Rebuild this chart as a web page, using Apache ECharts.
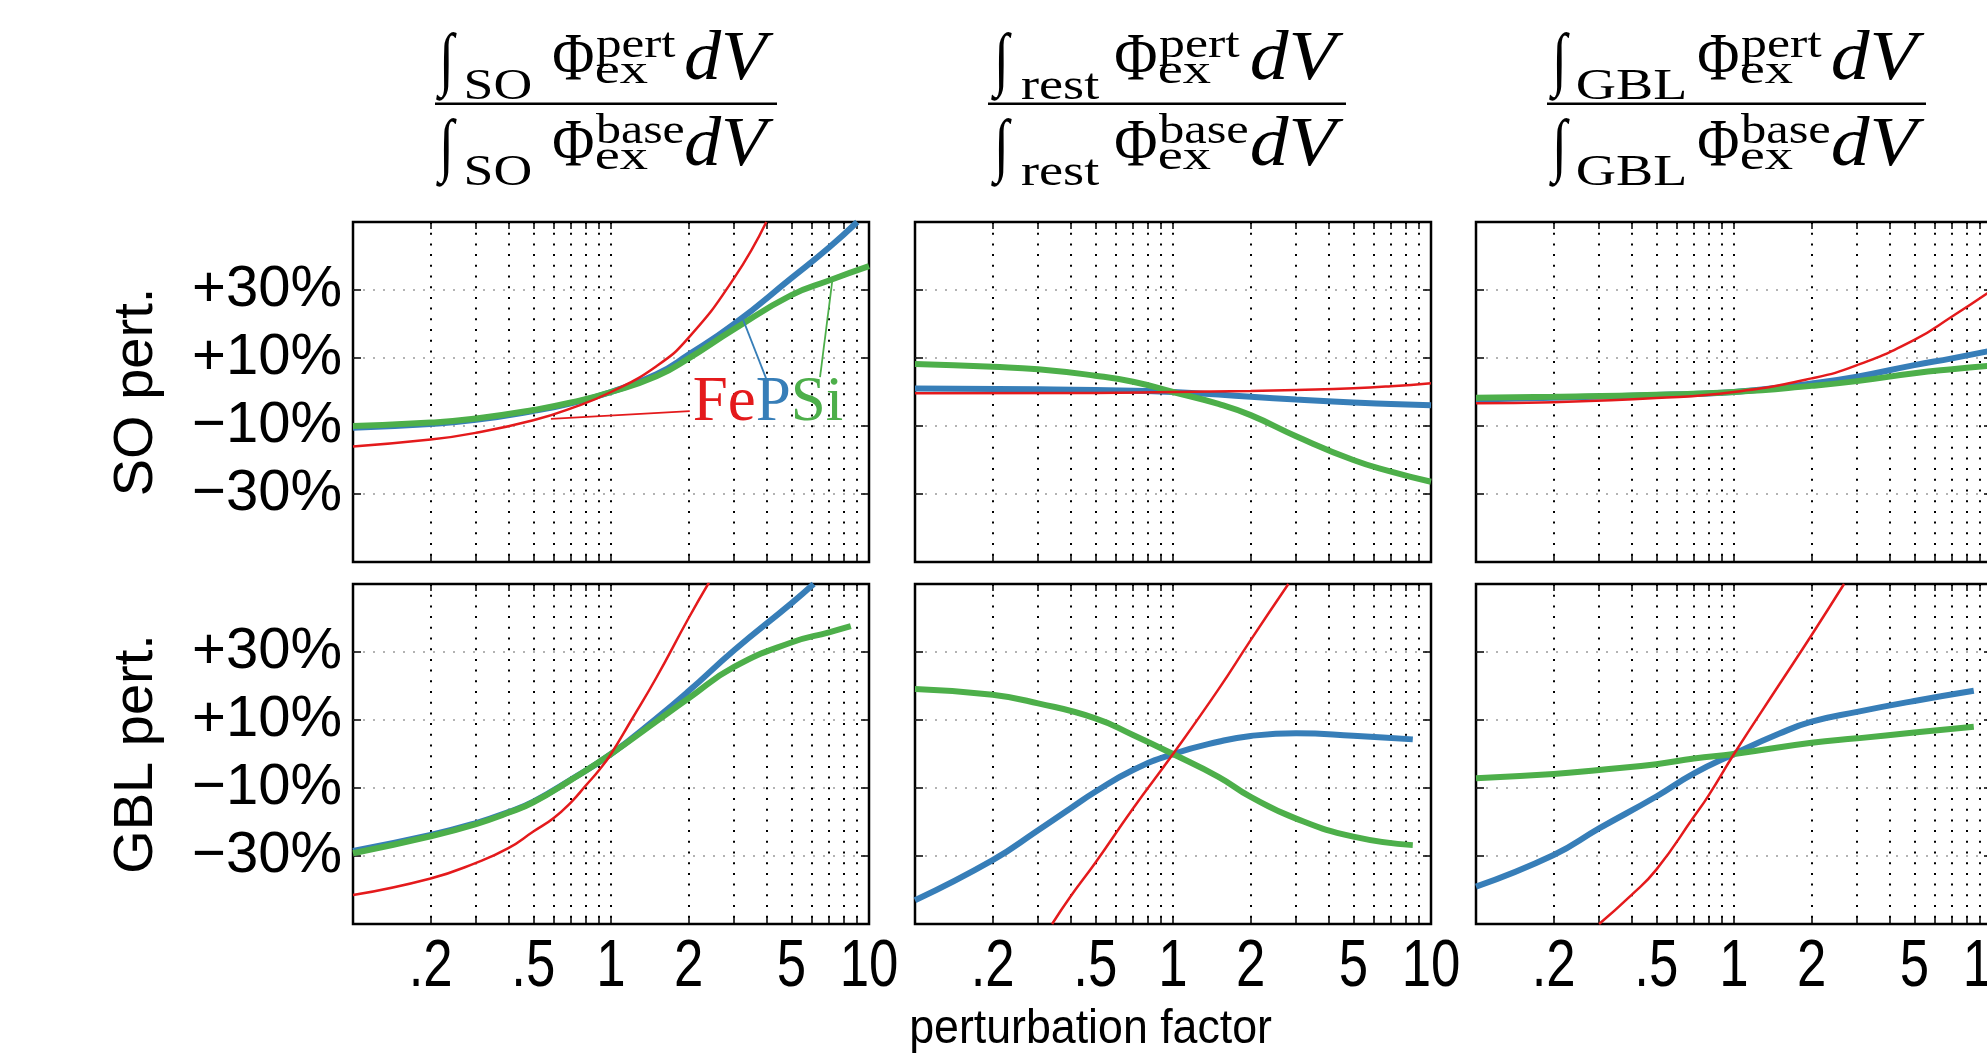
<!DOCTYPE html>
<html>
<head>
<meta charset="utf-8">
<script src="https://cdn.jsdelivr.net/npm/echarts@6/dist/echarts.min.js"></script>
<style>
  html, body { margin: 0; padding: 0; background: #fff; }
  #chart { width: 1987px; height: 1053px; }
</style>
</head>
<body>
<div id="chart"></div>
<script>
// axis ticks
const labelTicks = [0.2, 0.5, 1, 2, 5, 10];
const gridTicks = [0.2, 0.3, 0.4, 0.5, 0.6, 0.7, 0.8, 0.9, 1, 2, 3, 4, 5, 6, 7, 8, 9];
const yTicks = [-30, -10, 10, 30];
const rowNames = ['SO pert.', 'GBL pert.'];
const colSubs = ['SO', 'rest', 'GBL'];

// row 1: SO perturbation  [factor, % change]
const so_so_fe = [[0.1,-16],[0.2,-14],[0.3,-12],[0.5,-8.3],[0.7,-4.8],[1,0],[1.5,7.6],[2,16],[3,33.5],[4,50]];
const so_so_p  = [[0.1,-10.5],[0.2,-9.4],[0.3,-8.2],[0.5,-5.6],[0.7,-3.3],[1,0],[1.5,5.2],[2,11],[3,20],[5,33.5],[7,42.5],[9,50]];
const so_so_si = [[0.1,-10],[0.2,-9],[0.3,-7.8],[0.5,-5.3],[0.7,-3.1],[1,0],[1.5,4.6],[2,9.9],[3,18.5],[5,28.5],[7,32.8],[10,37]];

const so_rest_fe = [[0.1,-0.4],[0.5,-0.3],[1,0],[2,0.3],[3,0.6],[5,1.1],[7,1.7],[10,2.6]];
const so_rest_p  = [[0.1,1.0],[0.3,0.8],[0.5,0.6],[1,0],[2,-1.4],[3,-2.2],[5,-3.1],[7,-3.5],[10,-3.9]];
const so_rest_si = [[0.1,8.2],[0.2,7.4],[0.3,6.7],[0.5,4.8],[0.7,3.0],[1,0],[1.5,-3.5],[2,-6.8],[3,-13],[5,-20],[7,-23.4],[10,-26.4]];

const so_gbl_fe = [[0.1,-3.3],[0.2,-3.0],[0.5,-1.8],[1,0],[2,4.0],[3,7.9],[5,15.3],[7,22.2],[10,30]];
const so_gbl_p  = [[0.1,-2.2],[0.2,-1.7],[0.5,-0.9],[1,0],[2,2.5],[3,4.5],[5,7.9],[7,9.9],[10,12.2]];
const so_gbl_si = [[0.1,-1.7],[0.2,-1.4],[0.5,-0.8],[1,0],[2,1.8],[3,3.2],[5,5.5],[7,6.7],[10,7.8]];

// row 2: GBL perturbation
const gbl_so_fe = [[0.1,-41.5],[0.2,-36.6],[0.3,-32],[0.4,-27.7],[0.5,-22.8],[0.6,-18.8],[0.7,-14.2],[0.8,-9.2],[0.9,-4.7],[1,0],[1.2,10],[1.5,22.5],[2,40],[2.4,50.5]];
const gbl_so_p  = [[0.1,-28.5],[0.2,-23.8],[0.3,-20.3],[0.4,-17.1],[0.5,-14],[0.7,-7.5],[1,0],[1.5,10.5],[2,18.5],[3,30.5],[5,44.3],[6.1,50]];
const gbl_so_si = [[0.1,-29.2],[0.2,-24.2],[0.3,-20.6],[0.4,-17.3],[0.5,-14.2],[0.7,-7.6],[1,0],[1.5,9.6],[2,16.4],[3,25.6],[5,32.8],[7,35.8],[8.5,37.6]];

const gbl_rest_fe = [[0.34,-50],[0.4,-42],[0.5,-32],[0.7,-16],[1,0],[1.5,19],[2,33.5],[2.8,50]];
const gbl_rest_p  = [[0.1,-43],[0.2,-31.2],[0.3,-22.4],[0.4,-16],[0.5,-11.1],[0.7,-4.7],[1,0],[1.5,3.6],[2,5.3],[3,6.1],[5,5.4],[8.5,4.3]];
const gbl_rest_si = [[0.1,19.1],[0.2,17.4],[0.3,14.9],[0.5,10.5],[0.7,5.6],[1,0],[1.5,-6.7],[2,-12.6],[3,-19],[5,-24.3],[8.5,-26.8]];

const gbl_gbl_fe = [[0.3,-50],[0.4,-41.5],[0.5,-34],[0.7,-18.4],[0.8,-12],[1,0],[1.5,20.5],[2,35],[2.67,50]];
const gbl_gbl_p  = [[0.1,-39],[0.2,-29.7],[0.3,-21.9],[0.5,-12.5],[0.7,-5.7],[1,0],[1.5,6],[2,9.5],[3,12.4],[5,15.6],[8.5,18.6]];
const gbl_gbl_si = [[0.1,-7.1],[0.2,-5.9],[0.3,-4.7],[0.5,-3.0],[0.7,-1.3],[1,0],[2,3.3],[3,4.6],[5,6.3],[8.5,8.0]];

const panels = [
  [so_so_p, so_so_si, so_so_fe], [so_rest_p, so_rest_si, so_rest_fe], [so_gbl_p, so_gbl_si, so_gbl_fe],
  [gbl_so_p, gbl_so_si, gbl_so_fe], [gbl_rest_p, gbl_rest_si, gbl_rest_fe], [gbl_gbl_p, gbl_gbl_si, gbl_gbl_fe]
];

// leader lines of the FePSi annotation (top-left panel)
const leaderFe = [[0.585, -7.9], [2.02, -5.6]];
const leaderP = [[3.25, 21.3], [4.03, 3.2]];
const leaderSi = [[7.2, 32.5], [6.46, 4.4]];
const labelAt = [4.06, -3.5];

const RED = '#e41a1c', BLUE = '#377eb8', GREEN = '#4daf4a';
const SANS = "'Liberation Sans', Arial, sans-serif";
const SERIF = "'Liberation Serif', 'Times New Roman', serif";

const lefts = [353, 915, 1476];
const tops = [222, 584];
const W = 516, H = 340;

const chart = echarts.init(document.getElementById('chart'));

const fmtX = v => v < 1 ? String(+v.toFixed(2)).replace(/^0/, '') : String(Math.round(v));

let grid = [], xAxis = [], yAxis = [], series = [];
for (let r = 0; r < 2; r++) {
  for (let c = 0; c < 3; c++) {
    const g = r * 3 + c;
    grid.push({left: lefts[c], top: tops[r], width: W, height: H, show: true,
      borderColor: '#000', borderWidth: 2.5, backgroundColor: 'transparent', outerBoundsMode: 'none'});
    const xBase = {gridIndex: g, type: 'log', logBase: 10, min: 0.1, max: 10,
      axisLine: {show: false, onZero: false},
      axisTick: {show: true, inside: true, length: 7, customValues: gridTicks, lineStyle: {color: '#000', width: 1.5}},
      axisLabel: {show: false},
      minorTick: {show: false}};
    xAxis.push(Object.assign({}, xBase, {position: 'bottom',
      splitLine: {show: true, lineStyle: {color: '#000', width: 2, type: [2, 8.7]}}}));
    xAxis.push(Object.assign({}, xBase, {position: 'top', splitLine: {show: false}}));
    const yBase = {gridIndex: g, type: 'value', min: -50, max: 50,
      axisLine: {show: false, onZero: false},
      axisTick: {show: true, inside: true, length: 8, customValues: yTicks, lineStyle: {color: '#000', width: 1.5}}};
    yAxis.push(Object.assign({}, yBase, {position: 'left',
      name: c === 0 ? rowNames[r] : '', nameLocation: 'middle', nameRotate: 90, nameGap: 188, nameMoveOverlap: false,
      nameTextStyle: {fontSize: 56, fontFamily: SANS, color: '#000'},
      axisLabel: {show: c === 0, customValues: yTicks, fontSize: 58, fontFamily: SANS, color: '#000', margin: 11,
        formatter: v => (v > 0 ? '+' : '\u2212') + Math.abs(v) + '%'},
      splitLine: {show: true, lineStyle: {color: '#9a9a9a', width: 1.5, type: [2, 8]}}}));
    yAxis.push(Object.assign({}, yBase, {position: 'right', axisLabel: {show: false}, splitLine: {show: false}}));

    const [p, si, fe] = panels[g];
    const common = {type: 'line', xAxisIndex: g * 2, yAxisIndex: g * 2, showSymbol: false, symbol: 'none',
      smooth: 0.5, clip: true, silent: true};
    const sp = Object.assign({}, common, {name: 'P', data: p, lineStyle: {color: BLUE, width: 6}, itemStyle: {color: BLUE}});
    const ss = Object.assign({}, common, {name: 'Si', data: si, lineStyle: {color: GREEN, width: 6}, itemStyle: {color: GREEN}});
    const sf = Object.assign({}, common, {name: 'Fe', data: fe, lineStyle: {color: RED, width: 2.5}, itemStyle: {color: RED}});
    if (g === 0) {
      const ml = (pts, color) => ({silent: true, symbol: 'none', label: {show: false},
        lineStyle: {color: color, width: 1.8, type: 'solid'},
        data: [[{coord: pts[0]}, {coord: pts[1]}]]});
      sp.markLine = ml(leaderP, BLUE);
      ss.markLine = ml(leaderSi, GREEN);
      sf.markLine = ml(leaderFe, RED);
      sf.markPoint = {silent: true, symbol: 'rect', symbolSize: 1, itemStyle: {color: 'rgba(0,0,0,0)'},
        data: [{coord: labelAt, label: {show: true, position: 'inside', formatter: '{a|Fe}{b|P}{c|Si}',
          rich: {a: {color: RED, fontSize: 63, fontFamily: SERIF},
                 b: {color: BLUE, fontSize: 63, fontFamily: SERIF},
                 c: {color: GREEN, fontSize: 63, fontFamily: SERIF}}}}]};
    }
    series.push(sp, ss, sf);
  }
}

chart.setOption({
  animation: false,
  backgroundColor: '#fff',
  grid: grid,
  xAxis: xAxis,
  yAxis: yAxis,
  series: series
});

// text measuring helpers for scaled (condensed / widened) text
const meas = document.createElement('canvas').getContext('2d');
meas.textBaseline = 'middle';
function fitX(str, font, x0, x1, base) {
  meas.font = font;
  const m = meas.measureText(str);
  const sx = (x1 - x0) / (m.actualBoundingBoxLeft + m.actualBoundingBoxRight);
  const hb = meas.measureText('H').actualBoundingBoxDescent;
  return {type: 'text', x: x0 + sx * m.actualBoundingBoxLeft, y: base - hb, scaleX: sx, silent: true,
    style: {text: str, font: font, fill: '#000', align: 'left', verticalAlign: 'middle'}};
}
function fitBox(str, font, x0, x1, y0, y1) {
  meas.font = font;
  const m = meas.measureText(str);
  const sx = (x1 - x0) / (m.actualBoundingBoxLeft + m.actualBoundingBoxRight);
  const sy = (y1 - y0) / (m.actualBoundingBoxAscent + m.actualBoundingBoxDescent);
  return {type: 'text', x: x0 + sx * m.actualBoundingBoxLeft, y: y0 + sy * m.actualBoundingBoxAscent,
    scaleX: sx, scaleY: sy, silent: true,
    style: {text: str, font: font, fill: '#000', align: 'left', verticalAlign: 'middle'}};
}

const graphic = [];

// x tick labels of the bottom row, condensed, placed through the log axes
for (let c = 0; c < 3; c++) {
  const g = 3 + c;
  labelTicks.forEach(v => {
    const pt = chart.convertToPixel({xAxisIndex: g * 2, yAxisIndex: g * 2}, [v, -50]);
    graphic.push({type: 'text', x: pt[0], y: pt[1] + 11, scaleX: 0.8, silent: true,
      style: {text: fmtX(v), font: '66px ' + SANS, fill: '#000', align: 'center', verticalAlign: 'top'}});
  });
}

// column headings: fraction of integrals, laid out token by token
const headCols = [
  {L: 435, R: 777, int: [436, 457], sub: [466, 530], phi: [554, 593], pert: [596, 676], base: [596, 684], ex: [596, 648], dv: [686, 774]},
  {L: 988, R: 1346, int: [991, 1012], sub: [1021, 1099], phi: [1116, 1156], pert: [1159, 1240], base: [1159, 1248], ex: [1159, 1211], dv: [1252, 1344]},
  {L: 1547, R: 1926, int: [1549, 1570], sub: [1577, 1685], phi: [1699, 1738], pert: [1741, 1822], base: [1741, 1830], ex: [1741, 1793], dv: [1833, 1925]}
];
headCols.forEach((h, c) => {
  [['pert', 79], ['base', 165]].forEach(([sup, B]) => {
    graphic.push(fitBox('\u222B', '70px ' + SERIF, h.int[0], h.int[1], B - 47, B + 22));
    graphic.push(fitX(colSubs[c], '44px ' + SERIF, h.sub[0], h.sub[1], B + 20));
    graphic.push(fitX('\u03A6', '68px ' + SERIF, h.phi[0], h.phi[1], B));
    graphic.push(fitX(sup, '42px ' + SERIF, h[sup][0], h[sup][1], B - 22));
    graphic.push(fitX('ex', '42px ' + SERIF, h.ex[0], h.ex[1], B + 4));
    graphic.push(fitX('dV', 'italic 70px ' + SERIF, h.dv[0], h.dv[1], B));
  });
  graphic.push({type: 'rect', silent: true, shape: {x: h.L, y: 102.5, width: h.R - h.L, height: 2.5}, style: {fill: '#000'}});
});
graphic.push(fitX('perturbation factor', '48px ' + SANS, 912, 1272, 1043));

chart.setOption({graphic: graphic});
</script>
</body>
</html>
